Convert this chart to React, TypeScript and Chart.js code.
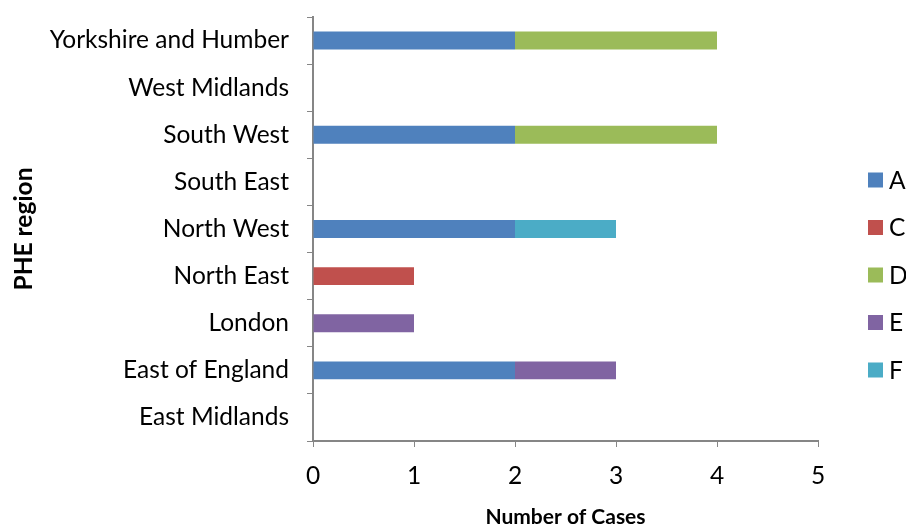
import React, { useEffect, useRef } from "react";
import { Chart, registerables } from "chart.js";

Chart.register(...registerables);

const regions = [
  "Yorkshire and Humber",
  "West Midlands",
  "South West",
  "South East",
  "North West",
  "North East",
  "London",
  "East of England",
  "East Midlands",
];

const seriesA = [2, 0, 2, 0, 2, 0, 0, 2, 0];
const seriesC = [0, 0, 0, 0, 0, 1, 0, 0, 0];
const seriesD = [2, 0, 2, 0, 0, 0, 0, 0, 0];
const seriesE = [0, 0, 0, 0, 0, 0, 1, 1, 0];
const seriesF = [0, 0, 0, 0, 1, 0, 0, 0, 0];

const seriesNames = ["A", "C", "D", "E", "F"];
const seriesColors = ["#4F81BD", "#C0504D", "#9BBB59", "#8064A2", "#4BACC6"];
const xTicks = [0, 1, 2, 3, 4, 5];

const FONT = "Lato, 'Open Sans', sans-serif";
const AXIS = "#868686";
const FS = 24.5;

const sideLegend = {
  id: "sideLegend",
  afterDraw(chart: any) {
    const { ctx, chartArea } = chart;
    const x = chartArea.right + 50;
    const step = 47.5;
    const n = chart.data.datasets.length;
    const midY = (chartArea.top + chartArea.bottom) / 2 + 46;
    ctx.save();
    ctx.font = `${FS}px ${FONT}`;
    ctx.textBaseline = "middle";
    ctx.textAlign = "left";
    chart.data.datasets.forEach((ds: any, i: number) => {
      const y = midY + (i - (n - 1) / 2) * step;
      ctx.fillStyle = ds.backgroundColor;
      ctx.fillRect(x, y - 7.5, 15, 15);
      ctx.fillStyle = "#000";
      ctx.fillText(ds.label, x + 21, y + 1);
    });
    ctx.restore();
  },
};

export default function App() {
  const ref = useRef<HTMLCanvasElement | null>(null);

  useEffect(() => {
    if (!ref.current) return;
    const values = [seriesA, seriesC, seriesD, seriesE, seriesF];
    const chart = new Chart(ref.current, {
      type: "bar",
      data: {
        labels: regions,
        datasets: seriesNames.map((name, i) => ({
          label: name,
          data: values[i],
          backgroundColor: seriesColors[i],
          borderWidth: 0,
          barPercentage: 0.38,
          categoryPercentage: 1,
        })),
      },
      options: {
        indexAxis: "y",
        animation: false,
        responsive: false,
        maintainAspectRatio: false,
        layout: { padding: { top: 17, right: 88, bottom: 0, left: 8 } },
        plugins: {
          tooltip: { enabled: false },
          legend: { display: false },
        },
        scales: {
          x: {
            stacked: true,
            min: 0,
            max: 5,
            afterBuildTicks: (axis: any) => {
              axis.ticks = xTicks.map((v) => ({ value: v }));
            },
            afterFit: (scale: any) => {
              scale.height = 84;
              scale.paddingLeft = 0;
              scale.paddingRight = 0;
            },
            grid: {
              display: true,
              drawOnChartArea: false,
              drawTicks: true,
              tickLength: 6,
              color: AXIS,
            },
            border: { display: true, color: AXIS, width: 2 },
            ticks: {
              color: "#000",
              padding: 14,
              font: { family: FONT, size: FS },
            },
            title: {
              display: true,
              text: "Number of Cases",
              color: "#000",
              font: { family: FONT, size: 21, weight: "bold" },
              padding: { top: 4, bottom: -5 },
            },
          },
          y: {
            stacked: true,
            afterFit: (scale: any) => {
              scale.width = 305;
              scale.paddingTop = 0;
              scale.paddingBottom = 0;
            },
            grid: {
              display: true,
              drawOnChartArea: false,
              drawTicks: true,
              tickLength: 6,
              color: AXIS,
              offset: true,
            },
            border: { display: true, color: AXIS, width: 2 },
            ticks: {
              color: "#000",
              padding: 18,
              font: { family: FONT, size: FS },
            },
            title: {
              display: true,
              text: "PHE region",
              color: "#000",
              font: { family: FONT, size: 24.5, weight: "bold" },
              padding: { top: 1, bottom: 6 },
            },
          },
        },
      },
      plugins: [sideLegend],
    });
    return () => chart.destroy();
  }, []);

  return (
    <div style={{ position: "fixed", left: 0, top: 0, width: 906, height: 525, background: "#fff" }}>
      <canvas ref={ref} width={906} height={525} />
    </div>
  );
}
